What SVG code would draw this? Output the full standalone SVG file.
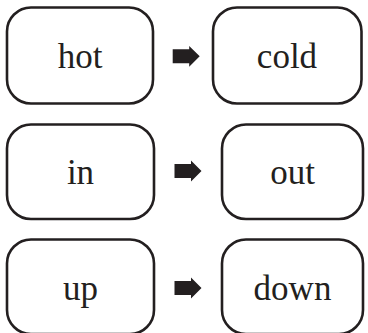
<svg xmlns="http://www.w3.org/2000/svg" xmlns:xlink="http://www.w3.org/1999/xlink" width="368" height="333" viewBox="0 0 368 333">
  <style>
    .box { fill: #ffffff; stroke: #231f20; stroke-width: 2.6; }
    .label { font-family: "Liberation Serif", "DejaVu Serif", serif; font-size: 35px; fill: #231f20; text-anchor: middle; }
    .arrow { fill: #231f20; }
  </style>
  <defs>
    <!-- block arrow, origin at the left end of its shaft centre line -->
    <path id="blockArrow" d="M0,-7 H16.5 V-10.4 L27,0 L16.5,10.4 V7 H0 Z"/>
  </defs>
  <rect width="368" height="333" fill="#ffffff"/>

  <g id="hot">
    <rect class="box" x="7" y="7.5" width="146" height="96" rx="24"/>
    <text class="label" x="80" y="68">hot</text>
  </g>
  <g id="cold">
    <rect class="box" x="213" y="7.5" width="148.5" height="96" rx="24"/>
    <text class="label" x="287" y="68">cold</text>
  </g>

  <g id="in">
    <rect class="box" x="7" y="124.5" width="147" height="94.5" rx="24"/>
    <text class="label" x="80.5" y="184">in</text>
  </g>
  <g id="out">
    <rect class="box" x="222" y="124.5" width="141" height="94.5" rx="24"/>
    <text class="label" x="292.5" y="184">out</text>
  </g>

  <g id="up">
    <rect class="box" x="7" y="239.5" width="147" height="94.5" rx="24"/>
    <text class="label" x="80.5" y="300">up</text>
  </g>
  <g id="down">
    <rect class="box" x="222" y="239.5" width="141" height="94.5" rx="24"/>
    <text class="label" x="292.5" y="300">down</text>
  </g>

  <g id="connectors" class="arrow">
    <use xlink:href="#blockArrow" transform="translate(172.7,56.3)"/>
    <use xlink:href="#blockArrow" transform="translate(174.5,171)"/>
    <use xlink:href="#blockArrow" transform="translate(174.5,288)"/>
  </g>
</svg>
